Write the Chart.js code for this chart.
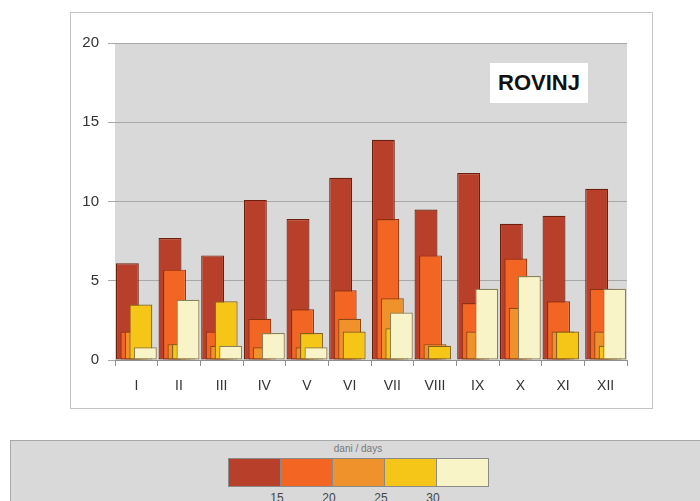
<!DOCTYPE html>
<html><head><meta charset="utf-8">
<script src="https://cdn.jsdelivr.net/npm/chart.js@4.4.1/dist/chart.umd.min.js"></script>
<style>
html,body{margin:0;padding:0;background:#fff;}
#wrap{position:relative;width:700px;height:501px;overflow:hidden;font-family:"Liberation Sans",Arial,sans-serif;}
canvas{position:absolute;left:0;top:0;}
#title{position:absolute;left:490px;top:63px;width:98px;height:40px;background:#fff;font-weight:bold;font-size:22px;line-height:40px;text-align:center;color:#111;}
#legendBox{position:absolute;left:10px;top:440px;width:700px;height:70px;background:#d9d9d9;border-top:1px solid #a8a8a8;border-left:1px solid #a8a8a8;}
#legendTitle{position:absolute;left:258px;top:443px;width:200px;text-align:center;font-size:10px;color:#777;}
.sw{position:absolute;top:458px;height:29px;border:1px solid #8a8a8a;box-sizing:border-box;}
.lt{position:absolute;top:491px;width:30px;text-align:center;font-size:12px;color:#444;}
</style></head><body>
<div id="wrap">
<canvas id="c" width="700" height="501"></canvas>
<div id="title">ROVINJ</div>
<div id="legendBox"></div>
<div id="legendTitle">dani / days</div>
</div>
<script>
const months = ['I','II','III','IV','V','VI','VII','VIII','IX','X','XI','XII'];
const seriesNames = ['<15','15-20','20-25','25-30','>30'];
const s1 = [6.1, 7.7, 6.6, 10.1, 8.9, 11.5, 13.9, 9.5, 11.8, 8.6, 9.1, 10.8];
const s2 = [1.8, 5.7, 1.8, 2.6, 3.2, 4.4, 8.9, 6.6, 3.6, 6.4, 3.7, 4.5];
const s3 = [1.8, 1.0, 0.9, 0.8, 0.8, 2.6, 3.9, 1.0, 1.8, 3.3, 1.8, 1.8];
const s4 = [3.5, 1.0, 3.7, 0, 1.7, 1.8, 2.0, 0.9, 0, 0, 1.8, 0.9];
const s5 = [0.8, 3.8, 0.9, 1.7, 0.8, 0, 3.0, 0, 4.5, 5.3, 0, 4.5];
const yTicks = [0, 5, 10, 15, 20];
const legendTitle = 'dani / days';
const legendTicks = ['15', '20', '25', '30'];

const seriesValues = [s1, s2, s3, s4, s5];
const seriesColors = ['#B8402A', '#F26522', '#F0922B', '#F5C518', '#F8F4C8'];
const seriesBorders = ['#6E200E', '#8E3010', '#8E4A14', '#82621A', '#8C8258'];
const FONT = '"Liberation Sans", Arial, sans-serif';

// legend (colour scale)
const wrap = document.getElementById('wrap');
document.getElementById('legendTitle').textContent = legendTitle;
const lx0 = 228, lw = 52;
seriesColors.forEach((c, i) => {
  const d = document.createElement('div');
  d.className = 'sw';
  d.style.left = (lx0 + i * lw) + 'px';
  d.style.width = (lw + 1) + 'px';
  d.style.background = c;
  wrap.appendChild(d);
});
legendTicks.forEach((t, i) => {
  const d = document.createElement('div');
  d.className = 'lt';
  d.style.left = (lx0 + (i + 1) * lw - 18) + 'px';
  d.textContent = t;
  wrap.appendChild(d);
});

const bgPlugin = {
  id: 'bg',
  beforeDraw(chart) {
    const ctx = chart.ctx, a = chart.chartArea;
    ctx.save();
    ctx.strokeStyle = '#c4c4c4';
    ctx.lineWidth = 1;
    ctx.strokeRect(70.5, 12.5, 582, 396);
    ctx.fillStyle = '#d9d9d9';
    ctx.fillRect(a.left, a.top, a.right - a.left, a.bottom - a.top);
    ctx.restore();
  }
};
const orderPlugin = {
  id: 'order',
  beforeDatasetsDraw(chart) {
    const metas = chart.getSortedVisibleDatasetMetas();
    for (const m of metas) chart._drawDataset(m);
    return false;
  }
};

new Chart(document.getElementById('c'), {
  type: 'bar',
  data: {
    labels: months,
    datasets: seriesValues.map((d, i) => ({
      label: seriesNames[i],
      data: d,
      backgroundColor: seriesColors[i],
      borderColor: seriesBorders[i],
      borderWidth: 1.2,
      borderSkipped: false,
      categoryPercentage: 0.527,
      barPercentage: 5.1
    }))
  },
  options: {
    responsive: false,
    animation: false,
    layout: { padding: { left: 0, top: 43, right: 73, bottom: 101 } },
    plugins: { legend: { display: false }, tooltip: { enabled: false } },
    scales: {
      x: {
        grid: { drawOnChartArea: false, drawTicks: true, tickLength: 6, color: '#909090', offset: true },
        border: { color: '#909090' },
        ticks: { color: '#333', font: { size: 14, family: FONT }, padding: 12, maxRotation: 0, autoSkip: false },
        afterFit(s) { s.height = 40; }
      },
      y: {
        min: 0, max: 20,
        afterBuildTicks(s) { s.ticks = yTicks.map(v => ({ value: v })); },
        ticks: { color: '#333', font: { size: 15, family: FONT }, padding: 9 },
        grid: { color: '#a8a8a8', tickLength: 7 },
        border: { display: false },
        afterFit(s) { s.width = 115; }
      }
    }
  },
  plugins: [bgPlugin, orderPlugin]
});
</script>
</body></html>
